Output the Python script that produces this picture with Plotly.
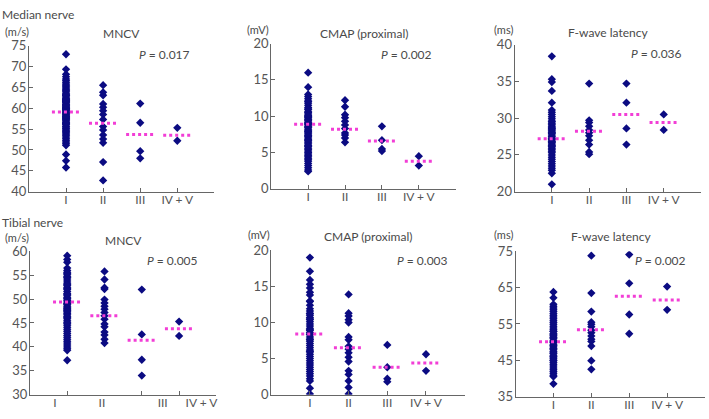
import plotly.graph_objects as go

W, H = 709, 419

groups = ["I", "II", "III", "IV + V"]

# ---------------- Median nerve ----------------
med_mncv_I = [72.9, 69.3, 48.9, 47.4, 45.8,
              68.1, 67.5, 67.0, 66.6, 66.2, 65.8, 65.5, 65.1, 64.8, 64.5, 64.2, 63.9, 63.6, 63.3,
              63.0, 62.7, 62.4, 62.1, 61.8, 61.5, 61.3, 61.0, 60.8, 60.5, 60.3, 60.0, 59.8, 59.6,
              59.3, 59.1, 58.9, 58.6, 58.4, 58.2, 57.9, 57.7, 57.5, 57.2, 57.0, 56.7, 56.5, 56.2,
              56.0, 55.7, 55.5, 55.2, 55.0, 54.7, 54.4, 54.1, 53.8, 53.5, 53.1, 52.7, 52.3, 51.9,
              51.5, 51.1, 60.2, 59.5, 58.8, 61.6, 62.2, 57.4, 56.3, 63.1, 58.0, 59.9, 60.7, 61.9]
med_mncv_II = [65.5, 63.8, 63.1, 61.0, 60.2, 59.4, 58.5, 57.3, 55.6, 54.8, 53.6, 52.6, 51.7, 47.1, 42.7]
med_mncv_III = [61.1, 56.5, 49.7, 48.0]
med_mncv_IV = [55.3, 52.2]
med_mncv_mean = [59.1, 56.4, 53.7, 53.5]

med_cmap_I = [16.0, 14.0,
              13.0, 12.7, 12.4, 12.1, 11.8, 11.5, 11.2, 10.9, 10.6, 10.3, 10.0, 9.8, 9.6, 9.4, 9.2,
              9.0, 8.8, 8.6, 8.4, 8.2, 8.0, 7.8, 7.6, 7.4, 7.2, 7.0, 6.8, 6.6, 6.4, 6.2, 6.0, 5.8,
              5.6, 5.4, 5.2, 5.0, 4.8, 4.6, 4.4, 4.2, 4.0, 3.8, 3.5, 3.2, 2.9, 2.6, 2.4, 9.9, 9.1,
              8.5, 7.9, 7.3, 10.5, 11.0, 12.0, 6.7, 5.9, 8.9, 9.5, 10.1]
med_cmap_II = [12.2, 11.3, 10.2, 9.8, 9.3, 8.8, 8.3, 7.7, 7.4, 7.0, 6.4]
med_cmap_III = [8.6, 6.7, 5.5, 5.2]
med_cmap_IV = [4.5, 3.2]
med_cmap_mean = [8.9, 8.2, 6.6, 3.8]

med_fw_I = [38.4, 35.3, 34.9, 33.7, 32.1, 31.1, 30.8,
            30.5, 30.2, 29.9, 29.6, 29.3, 29.1, 28.9, 28.7, 28.5, 28.3, 28.1, 27.9, 27.7, 27.5,
            27.3, 27.1, 26.9, 26.7, 26.5, 26.3, 26.1, 25.9, 25.7, 25.5, 25.3, 25.0, 24.7, 24.4,
            24.1, 23.8, 23.5, 23.2, 22.9, 22.5, 21.0, 27.2, 26.8, 28.0, 28.6, 29.5, 26.2]
med_fw_II = [34.7, 29.7, 29.4, 28.9, 28.4, 28.0, 27.6, 27.0, 26.4, 25.4, 25.1]
med_fw_III = [34.7, 32.1, 28.6, 26.4]
med_fw_IV = [30.5, 28.4]
med_fw_mean = [27.2, 28.2, 30.5, 29.4]

# ---------------- Tibial nerve ----------------
tib_mncv_I = [59.1, 58.3, 57.7,
              56.5, 56.0, 55.6, 55.2, 54.8, 54.4, 54.0, 53.6, 53.2, 52.8, 52.4, 52.0, 51.6, 51.2,
              50.8, 50.4, 50.0, 49.7, 49.4, 49.1, 48.8, 48.5, 48.2, 47.9, 47.6, 47.3, 47.0, 46.7,
              46.4, 46.0, 45.6, 45.2, 44.8, 44.4, 44.0, 43.6, 43.2, 42.8, 42.4, 42.0, 41.6, 41.2,
              40.8, 40.4, 40.0, 39.6, 39.3, 37.2, 50.2, 49.0, 51.0, 48.0, 52.2, 53.0, 47.5, 46.2,
              45.0, 54.6, 55.4]
tib_mncv_II = [55.8, 54.1, 52.4, 52.1, 49.9, 49.2, 48.5, 47.9, 47.2, 46.5, 45.8, 44.8, 44.2,
               43.1, 42.5, 41.6, 40.8]
tib_mncv_III = [52.0, 42.6, 37.3, 34.0]
tib_mncv_IV = [45.3, 42.3]
tib_mncv_mean = [49.4, 46.5, 41.4, 43.8]

tib_cmap_I = [19.0, 17.1, 15.9, 15.3, 14.8, 14.2, 13.8, 13.0, 12.4,
              11.9, 11.6, 11.3, 11.0, 10.7, 10.4, 10.1, 9.8, 9.5, 9.2, 8.9, 8.6, 8.3, 8.0, 7.7,
              7.4, 7.1, 6.8, 6.5, 6.2, 5.9, 5.6, 5.3, 5.0, 4.7, 4.4, 4.1, 3.8, 3.5, 3.2, 2.9, 2.6,
              2.2, 1.9, 0.9, 0.1, 8.4, 9.0, 10.5, 7.6, 6.0, 11.2, 12.9]
tib_cmap_II = [13.9, 11.3, 10.9, 10.4, 10.0, 8.0, 7.6, 6.7, 6.3, 5.8, 5.2, 4.6, 3.3, 2.8, 1.9, 1.0, 0.1]
tib_cmap_III = [6.9, 3.8, 2.2, 1.8]
tib_cmap_IV = [5.6, 3.3]
tib_cmap_mean = [8.4, 6.5, 3.8, 4.4]

tib_fw_I = [63.8, 62.2, 60.4,
            59.9, 59.4, 58.9, 58.4, 57.9, 57.4, 56.9, 56.4, 55.9, 55.4, 54.9, 54.4, 53.9, 53.4,
            52.9, 52.4, 51.9, 51.4, 50.9, 50.4, 49.9, 49.4, 48.9, 48.4, 47.9, 47.4, 46.9, 46.4,
            45.9, 45.4, 44.9, 44.4, 43.9, 43.4, 42.9, 42.4, 41.9, 41.4, 40.9, 40.5, 38.5, 50.1,
            49.0, 48.2, 51.2, 47.0, 52.0, 46.0, 53.0, 45.0]
tib_fw_II = [73.8, 63.5, 58.4, 55.5, 54.9, 54.2, 53.3, 52.6, 51.7, 50.8, 50.2, 48.9, 44.9, 42.5]
tib_fw_III = [74.1, 66.2, 57.6, 52.3]
tib_fw_IV = [65.3, 58.9]
tib_fw_mean = [50.1, 53.4, 62.6, 61.6]

p_values = ["0.017", "0.002", "0.036", "0.005", "0.003", "0.002"]
panel_titles = ["MNCV", "CMAP (proximal)", "F-wave latency", "MNCV", "CMAP (proximal)", "F-wave latency"]
units = ["(m/s)", "(mV)", "(ms)", "(m/s)", "(mV)", "(ms)"]
y_ranges = [(40, 75), (0, 20), (20, 40), (30, 60), (0, 20), (35, 75)]
y_dticks = [5, 5, 5, 5, 5, 10]

panels = [
    [med_mncv_I, med_mncv_II, med_mncv_III, med_mncv_IV, med_mncv_mean],
    [med_cmap_I, med_cmap_II, med_cmap_III, med_cmap_IV, med_cmap_mean],
    [med_fw_I, med_fw_II, med_fw_III, med_fw_IV, med_fw_mean],
    [tib_mncv_I, tib_mncv_II, tib_mncv_III, tib_mncv_IV, tib_mncv_mean],
    [tib_cmap_I, tib_cmap_II, tib_cmap_III, tib_cmap_IV, tib_cmap_mean],
    [tib_fw_I, tib_fw_II, tib_fw_III, tib_fw_IV, tib_fw_mean],
]

# pixel boxes (left, right, top, bottom)
boxes = [(29, 215, 39, 191), (272, 457, 37, 188), (516, 703, 38, 191),
         (30, 217, 253, 402), (272, 466, 252, 402), (517, 707, 253, 404)]
title_pos = [(122, 26), (365, 26), (610, 25), (124, 242), (369, 238), (613, 238)]
unit_pos = [(3, 24), (246, 22), (493, 22), (3, 239), (247, 236), (493, 236)]
p_pos = [(193, 48), (435, 48), (686, 47), (201, 263), (451, 263), (690, 263)]

FONT = "Lato"
TXT = "#4a4a4a"
AX = "#666666"
NAVY = "#0b0b82"
PINK = "#f23ed6"

fig = go.Figure()
layout = dict(width=W, height=H, margin=dict(l=0, r=0, t=0, b=0),
              paper_bgcolor="white", plot_bgcolor="white", showlegend=False,
              font=dict(family=FONT, color=TXT, size=12))
annotations = []

cat_pos = [1, 2, 3, 4]
for i, (data, box) in enumerate(zip(panels, boxes)):
    k = i + 1
    xa = "x" if k == 1 else f"x{k}"
    ya = "y" if k == 1 else f"y{k}"
    means = data[4]
    for g in range(4):
        fig.add_trace(go.Scatter(
            x=[cat_pos[g]] * len(data[g]), y=data[g], mode="markers",
            marker=dict(symbol="diamond", size=6.4, color=NAVY, line=dict(width=0)),
            xaxis=xa, yaxis=ya, hoverinfo="y"))
    for g in range(4):
        fig.add_trace(go.Scatter(
            x=[cat_pos[g] - 0.38, cat_pos[g] + 0.38], y=[means[g], means[g]], mode="lines",
            line=dict(color=PINK, width=3, dash="3px,3px"),
            xaxis=xa, yaxis=ya, hoverinfo="skip"))
    l, r, t, b = box
    xdom = [l / W, r / W]
    ydom = [1 - b / H, 1 - t / H]
    xfont = dict(size=12, color="#555555")
    if k == 4:
        xaxis = dict(domain=xdom, range=[0, 5], anchor=ya, showline=True, linecolor=AX,
                     linewidth=1, tickmode="array", tickvals=[0.67, 1.93, 3.56, 4.6],
                     ticktext=groups, ticks="", showgrid=False, zeroline=False,
                     tickfont=xfont, ticklabelstandoff=-3)
        layout["xaxis7"] = dict(domain=xdom, range=[0, 5], anchor=ya, overlaying=xa,
                                showline=False, tickmode="array", tickvals=[1, 3, 4, 5],
                                ticks="inside", ticklen=4, tickcolor=AX, showticklabels=False,
                                showgrid=False, zeroline=False)
    else:
        xaxis = dict(domain=xdom, range=[0, 5], anchor=ya, showline=True, linecolor=AX,
                     linewidth=1, tickmode="array", tickvals=[1, 2, 3, 4, 5],
                     ticktext=groups + [""], ticks="inside", ticklen=4, tickcolor=AX,
                     showgrid=False, zeroline=False, tickfont=xfont, ticklabelstandoff=-3)
    y0, y1 = y_ranges[i]
    yaxis = dict(domain=ydom, range=[y0, y1], anchor=xa, showline=True, linecolor=AX,
                 linewidth=1, tick0=y0, dtick=y_dticks[i], ticks="inside", ticklen=4,
                 tickcolor=AX, showgrid=False, zeroline=False,
                 tickfont=dict(size=13, color="#555555"), ticklabelstandoff=-1)
    layout["xaxis" if k == 1 else f"xaxis{k}"] = xaxis
    layout["yaxis" if k == 1 else f"yaxis{k}"] = yaxis

    tx, ty = title_pos[i]
    annotations.append(dict(text=panel_titles[i], x=tx / W, y=1 - ty / H, xref="paper",
                            yref="paper", showarrow=False, xanchor="center", yanchor="middle",
                            font=dict(size=12, color=TXT)))
    ux, uy = unit_pos[i]
    annotations.append(dict(text=units[i], x=ux / W, y=1 - uy / H, xref="paper",
                            yref="paper", showarrow=False, xanchor="left", yanchor="middle",
                            font=dict(size=11, color=TXT)))
    px, py = p_pos[i]
    annotations.append(dict(text=f"<i>P</i> = {p_values[i]}", x=px / W, y=1 - py / H,
                            xref="paper", yref="paper", showarrow=False, xanchor="right",
                            yanchor="middle", font=dict(size=12, color=TXT)))

# dummy trace so the overlay tick axis of panel 4 is drawn
fig.add_trace(go.Scatter(x=[None], y=[None], xaxis="x7", yaxis="y4", showlegend=False))

annotations.append(dict(text="Median nerve", x=0, y=1 - 7 / H, xref="paper", yref="paper",
                        showarrow=False, xanchor="left", yanchor="middle",
                        font=dict(size=12, color=TXT)))
annotations.append(dict(text="Tibial nerve", x=0, y=1 - 223 / H, xref="paper", yref="paper",
                        showarrow=False, xanchor="left", yanchor="middle",
                        font=dict(size=12, color=TXT)))
layout["annotations"] = annotations
fig.update_layout(**layout)
fig.write_html("out.html", config={"displayModeBar": False})

# remove the browser's default page margin so the figure fills the window exactly
with open("out.html", "r", encoding="utf-8") as f:
    html = f.read()
html = html.replace("<head>", "<head><style>html,body{margin:0;padding:0;overflow:hidden;}</style>", 1)
with open("out.html", "w", encoding="utf-8") as f:
    f.write(html)
